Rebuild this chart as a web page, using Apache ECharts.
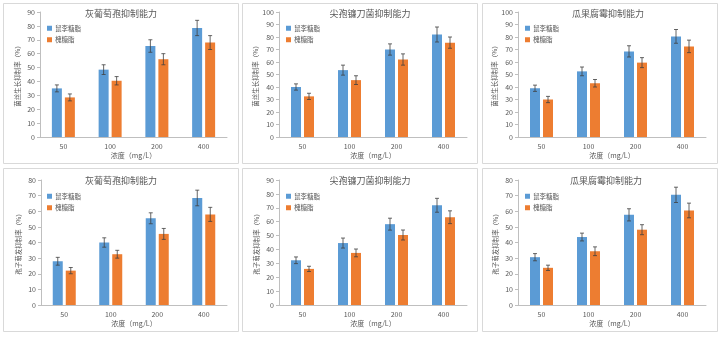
<!DOCTYPE html>
<html>
<head>
<meta charset="utf-8">
<script src="https://cdn.jsdelivr.net/npm/echarts@6/dist/echarts.min.js"></script>
<style>
html,body{margin:0;padding:0;background:#fff;}
#c{width:719px;height:338px;}
</style>
</head>
<body>
<div id="c"></div>
<script>
// ---------- data ----------
const categories = ['50', '100', '200', '400'];
const seriesNames = ['鼠李糖脂', '槐糖脂'];
const titles = ['灰葡萄孢抑制能力', '尖孢镰刀菌抑制能力', '瓜果腐霉抑制能力',
                '灰葡萄孢抑制能力', '尖孢镰刀菌抑制能力', '瓜果腐霉抑制能力'];
const yNames = ['菌丝生长抑制率（%）', '菌丝生长抑制率（%）', '菌丝生长抑制率（%）',
                '孢子萌发抑制率（%）', '孢子萌发抑制率（%）', '孢子萌发抑制率（%）'];
const xName = '浓度（mg/L）';
const yMax = [90, 100, 100, 80, 90, 80];

const p1Rham = [35, 48.5, 65.5, 78.5];   const p1RhamErr = [2.5, 3.5, 4.5, 5.5];
const p1Soph = [28.5, 40.5, 56, 68];     const p1SophErr = [2.5, 3, 4, 5];
const p2Rham = [40, 53.5, 70, 82];       const p2RhamErr = [2.5, 4, 4.5, 6];
const p2Soph = [32.5, 45.5, 62, 75.5];   const p2SophErr = [2.5, 3.5, 4.5, 4.5];
const p3Rham = [39, 52.5, 68.5, 80.5];   const p3RhamErr = [2.5, 3.5, 4.5, 5.5];
const p3Soph = [30, 43, 59.5, 72.5];     const p3SophErr = [2.5, 3, 4, 5];
const p4Rham = [28, 40, 55.5, 68.5];     const p4RhamErr = [2.5, 3, 3.5, 5];
const p4Soph = [22, 32.5, 45.5, 58];     const p4SophErr = [2, 2.5, 3.5, 4.5];
const p5Rham = [32.2, 44.6, 58.2, 71.8]; const p5RhamErr = [2.4, 3.6, 4.3, 5];
const p5Soph = [26, 37.5, 50.4, 63.2];   const p5SophErr = [1.9, 2.8, 3.6, 4.6];
const p6Rham = [30.6, 43.5, 57.7, 70.5]; const p6RhamErr = [2.3, 2.5, 3.9, 4.9];
const p6Soph = [23.8, 34.4, 48.2, 60.5]; const p6SophErr = [1.7, 2.8, 3.2, 4.7];

const panelData = [
  [p1Rham, p1RhamErr, p1Soph, p1SophErr],
  [p2Rham, p2RhamErr, p2Soph, p2SophErr],
  [p3Rham, p3RhamErr, p3Soph, p3SophErr],
  [p4Rham, p4RhamErr, p4Soph, p4SophErr],
  [p5Rham, p5RhamErr, p5Soph, p5SophErr],
  [p6Rham, p6RhamErr, p6Soph, p6SophErr]
];

// ---------- layout / style ----------
const colors = ['#5B9BD5', '#ED7D31'];
const BAR_W = 10, GAP = 3;
const grids = [
  {left: 40, top: 12, width: 187, height: 125},
  {left: 279, top: 12, width: 188, height: 125},
  {left: 518, top: 12, width: 188, height: 125},
  {left: 41, top: 180, width: 186, height: 125},
  {left: 279, top: 180, width: 188, height: 125},
  {left: 518, top: 180, width: 188, height: 125}
];
const boxes = [
  [3, 3, 235, 160], [242, 3, 235, 160], [482, 3, 235, 160],
  [3, 168, 235, 163], [242, 168, 235, 163], [482, 168, 235, 163]
];
const titlePos = [[121, 9], [370, 9], [608, 9], [121, 176], [370, 176], [606, 176]];
const legendPos = [[47, 25], [286, 25], [525, 25], [47, 193], [286, 193], [525, 193]];
const textColor = '#595959';
const font = 'Noto Sans CJK SC';

const option = {
  animation: false,
  backgroundColor: '#fff',
  textStyle: {fontFamily: font},
  graphic: boxes.map(b => ({
    type: 'rect', z: -10, silent: true,
    shape: {x: b[0] + 0.5, y: b[1] + 0.5, width: b[2], height: b[3]},
    style: {fill: '#fff', stroke: '#d9d9d9', lineWidth: 1}
  })),
  title: titles.map((t, i) => ({
    text: t, left: titlePos[i][0], top: titlePos[i][1], textAlign: 'center', padding: 0,
    textStyle: {fontSize: 9, fontWeight: 'normal', color: textColor, fontFamily: font}
  })),
  legend: legendPos.map(p => ({
    data: seriesNames, left: p[0], top: p[1], orient: 'vertical', padding: 0,
    itemWidth: 5, itemHeight: 5, itemGap: 5, icon: 'rect',
    textStyle: {fontSize: 6.5, color: textColor, fontFamily: font, padding: [0, 0, 0, -2]}
  })),
  grid: grids,
  xAxis: grids.map((g, i) => ({
    gridIndex: i, type: 'category', data: categories,
    name: xName, nameLocation: 'middle', nameGap: 15,
    nameTextStyle: {fontSize: 7, color: textColor, fontFamily: font},
    axisLine: {lineStyle: {color: '#bfbfbf'}},
    axisTick: {show: false},
    axisLabel: {fontSize: 7, color: textColor, margin: 6}
  })),
  yAxis: grids.map((g, i) => ({
    gridIndex: i, type: 'value', min: 0, max: yMax[i], interval: 10,
    name: yNames[i], nameLocation: 'middle', nameGap: 19, nameRotate: 90,
    nameTextStyle: {fontSize: 6.5, color: textColor, fontFamily: font},
    axisLine: {show: true, lineStyle: {color: '#bfbfbf'}},
    axisTick: {show: true, length: 3, lineStyle: {color: '#bfbfbf'}},
    splitLine: {show: false},
    axisLabel: {fontSize: 7, color: textColor, margin: 5}
  })),
  series: []
};

function errSeries(i, vals, errs, sign) {
  return {
    type: 'custom', xAxisIndex: i, yAxisIndex: i, z: 10, silent: true,
    data: vals.map((v, k) => [k, v, errs[k]]),
    encode: {x: 0, y: 1},
    renderItem: function (params, api) {
      const x = api.value(0), v = api.value(1), e = api.value(2);
      const hi = api.coord([x, v + e]);
      const lo = api.coord([x, v - e]);
      const cx = hi[0] + sign * (BAR_W / 2 + GAP / 2);
      const st = {stroke: '#404040', lineWidth: 0.8};
      return {
        type: 'group',
        children: [
          {type: 'line', shape: {x1: cx, y1: hi[1], x2: cx, y2: lo[1]}, style: st},
          {type: 'line', shape: {x1: cx - 2, y1: hi[1], x2: cx + 2, y2: hi[1]}, style: st},
          {type: 'line', shape: {x1: cx - 2, y1: lo[1], x2: cx + 2, y2: lo[1]}, style: st}
        ]
      };
    }
  };
}

panelData.forEach((d, i) => {
  option.series.push({
    name: seriesNames[0], type: 'bar', xAxisIndex: i, yAxisIndex: i,
    data: d[0], barWidth: BAR_W, barGap: (GAP / BAR_W * 100) + '%',
    itemStyle: {color: colors[0]}
  });
  option.series.push({
    name: seriesNames[1], type: 'bar', xAxisIndex: i, yAxisIndex: i,
    data: d[2], barWidth: BAR_W, barGap: (GAP / BAR_W * 100) + '%',
    itemStyle: {color: colors[1]}
  });
  option.series.push(errSeries(i, d[0], d[1], -1));
  option.series.push(errSeries(i, d[2], d[3], 1));
});

const chart = echarts.init(document.getElementById('c'), null, {renderer: 'canvas'});
chart.setOption(option);
</script>
</body>
</html>
